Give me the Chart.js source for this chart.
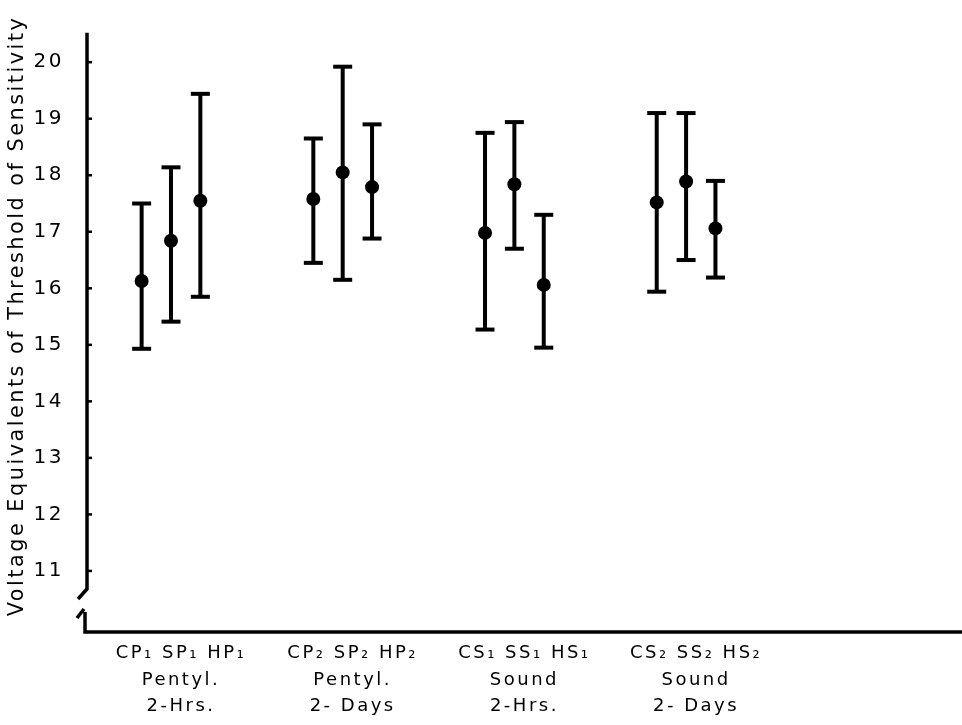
<!DOCTYPE html>
<html>
<head>
<meta charset="utf-8">
<script src="https://cdn.jsdelivr.net/npm/chart.js@4"></script>
<style>
  html, body { margin: 0; padding: 0; background: #fff; }
  #wrap { width: 962px; height: 725px; }
</style>
</head>
<body>
<div id="wrap"><canvas id="chart"></canvas></div>
<script>
// Groups (x categories), three conditions each
const groupLabels = [
    ['CP\u2081 SP\u2081 HP\u2081', 'Pentyl.', '2-Hrs.'],
    ['CP\u2082 SP\u2082 HP\u2082', 'Pentyl.', '2- Days'],
    ['CS\u2081 SS\u2081 HS\u2081', 'Sound', '2-Hrs.'],
    ['CS\u2082 SS\u2082 HS\u2082', 'Sound', '2- Days']
];
// mean and range per group (C, S, H order)
const means = [
    [16.13, 16.84, 17.55],
    [17.58, 18.05, 17.79],
    [16.98, 17.84, 16.06],
    [17.52, 17.89, 17.06]
];
const upper = [
    [17.50, 18.14, 19.44],
    [18.65, 19.92, 18.90],
    [18.75, 18.94, 17.30],
    [19.10, 19.10, 17.90]
];
const lower = [
    [14.93, 15.41, 15.85],
    [16.45, 16.15, 16.88],
    [15.27, 16.70, 14.95],
    [15.94, 16.50, 16.19]
];
const yTicks = [11, 12, 13, 14, 15, 16, 17, 18, 19, 20];

const slot = 0.171; // spacing of the three bars inside a group

const dots = [];
const bars = [];
means.forEach(function(grp, g) {
    grp.forEach(function(m, i) {
        const x = g + 1 + (i - 1) * slot;
        dots.push({x: x, y: m});
        bars.push({x: x, y: lower[g][i]});
        bars.push({x: x, y: upper[g][i]});
        bars.push({x: x, y: null});
    });
});

// lettering in the original is widely spaced
const spacing = {
    id: 'spacing',
    beforeDraw: function(chart) {
        chart.ctx.letterSpacing = '2.5px';
    }
};

// y axis with a break near the bottom, ticks pointing inward
const brokenAxis = {
    id: 'brokenAxis',
    afterDraw: function(chart) {
        const ctx = chart.ctx;
        const ys = chart.scales.y;
        const a = chart.chartArea;
        const left = a.left;
        const bottom = a.bottom;
        ctx.save();
        ctx.strokeStyle = '#000';
        ctx.lineWidth = 3.5;
        ctx.beginPath();
        ctx.moveTo(left + 1, ys.getPixelForValue(20.52));
        ctx.lineTo(left + 1, ys.getPixelForValue(10.68));
        ctx.lineTo(left - 8, ys.getPixelForValue(10.68) + 10);
        ctx.stroke();

        ctx.beginPath();
        ctx.moveTo(left - 9, bottom - 14);
        ctx.lineTo(left - 2, bottom - 23);
        ctx.moveTo(left - 1, bottom - 20);
        ctx.lineTo(left - 1, bottom);
        ctx.lineTo(a.right, bottom);
        ctx.stroke();

        ctx.lineWidth = 2.5;
        yTicks.forEach(function(v) {
            const py = ys.getPixelForValue(v);
            ctx.beginPath();
            ctx.moveTo(left + 1, py);
            ctx.lineTo(left + 6, py);
            ctx.stroke();
        });
        ctx.restore();
    }
};

const ctx = document.getElementById('chart').getContext('2d');
const chart = new Chart(ctx, {
    type: 'scatter',
    data: {
        datasets: [{
            label: 'Mean',
            data: dots,
            pointRadius: 7,
            pointHoverRadius: 7,
            backgroundColor: '#000',
            borderWidth: 0,
            order: 0
        }, {
            label: 'Range',
            type: 'line',
            data: bars,
            showLine: true,
            spanGaps: false,
            borderColor: '#000',
            borderWidth: 4,
            pointStyle: 'line',
            pointRadius: 9.5,
            pointHoverRadius: 9.5,
            pointBorderColor: '#000',
            pointBorderWidth: 4,
            order: 1
        }]
    },
    options: {
        responsive: true,
        maintainAspectRatio: false,
        animation: false,
        layout: { autoPadding: false, padding: 0 },
        scales: {
            x: {
                type: 'linear',
                min: 0.505,
                max: 5.607,
                afterBuildTicks: function(scale) {
                    scale.ticks = groupLabels.map(function(l, i) { return {value: i + 1}; });
                },
                afterFit: function(scale) {
                    scale.height = 93;
                    scale.paddingLeft = 0;
                    scale.paddingRight = 0;
                },
                grid: { display: false, drawTicks: false },
                border: { display: false },
                ticks: {
                    color: '#000',
                    font: { family: 'DejaVu Sans', size: 18, lineHeight: 1.48 },
                    padding: 8,
                    labelOffset: 10,
                    maxRotation: 0,
                    autoSkip: false,
                    callback: function(v) { return groupLabels[v - 1]; }
                }
            },
            y: {
                type: 'linear',
                min: 9.92,
                max: 21.1,
                afterBuildTicks: function(scale) {
                    scale.ticks = yTicks.map(function(v) { return {value: v}; });
                },
                afterFit: function(scale) {
                    scale.width = 86;
                    scale.paddingTop = 0;
                    scale.paddingBottom = 0;
                },
                grid: { display: false, drawTicks: false },
                border: { display: false },
                ticks: {
                    color: '#000',
                    font: { family: 'DejaVu Sans', size: 20 },
                    padding: 22
                },
                title: {
                    display: true,
                    text: 'Voltage Equivalents of Threshold of Sensitivity',
                    color: '#000',
                    font: { family: 'DejaVu Sans', size: 20.8 },
                    padding: { top: 5, bottom: 0 }
                }
            }
        },
        plugins: {
            legend: { display: false },
            tooltip: { enabled: false }
        }
    },
    plugins: [spacing, brokenAxis]
});
</script>
</body>
</html>
